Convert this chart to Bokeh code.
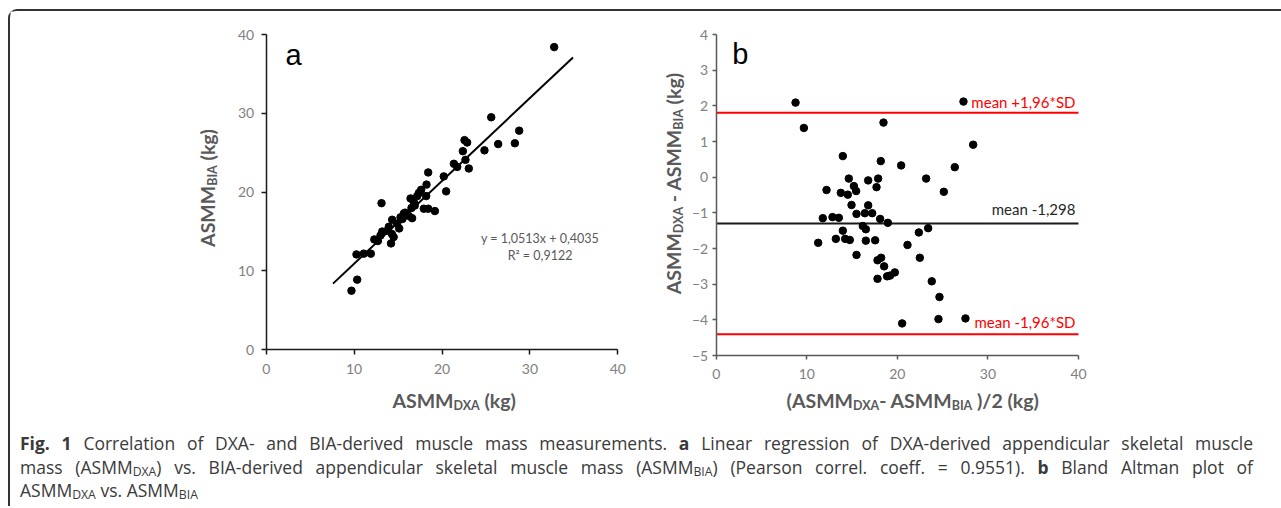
import glob
import math
import re
from bokeh.plotting import figure
from bokeh.models import Range1d, Label, Div, LinearAxis, FixedTicker
from bokeh.layouts import column, row
from bokeh.embed import file_html
from bokeh.resources import INLINE

try:
    from PIL import ImageFont
except Exception:
    ImageFont = None

# ---------------- data ----------------
# panel a: ASMM DXA vs ASMM BIA (kg)
dxa_a = [9.7, 10.35, 10.27, 11.1, 11.9, 12.3, 12.7, 13.0, 13.2, 13.76, 14.3, 14.5, 14.2,
         13.95, 15.13, 14.9, 14.33, 15.28, 15.66, 16.6, 13.12, 16.53, 16.8, 16.42, 17.18,
         17.37, 17.63, 18.2, 17.93, 18.43, 19.19, 18.24, 18.43, 20.2, 20.47, 21.35, 21.73,
         22.37, 22.56, 22.86, 22.67, 23.05, 24.83, 25.6, 26.39, 28.29, 28.78, 32.76, 15.8,
         16.2, 15.5, 16.9]
bia_a = [7.5, 8.9, 12.1, 12.2, 12.2, 14.0, 13.8, 14.5, 15.0, 15.1, 14.7, 14.3, 13.5,
         15.6, 15.4, 16.0, 16.5, 16.8, 17.3, 16.7, 18.6, 18.0, 18.7, 19.2, 19.5,
         19.9, 20.3, 19.5, 17.9, 17.9, 17.6, 20.96, 22.5, 22.0, 20.1, 23.6, 23.2,
         25.2, 26.6, 26.3, 24.1, 23.0, 25.3, 29.5, 26.1, 26.2, 27.8, 38.4, 17.4,
         17.0, 16.6, 18.3]
reg_slope = 1.0513
reg_intercept = 0.4035
reg_r2 = 0.9122
reg_x_span = [7.6, 34.9]

# panel b: Bland-Altman
ba_mean = [8.76, 9.68, 27.3, 18.47, 28.37, 13.98, 18.17, 20.42, 26.34, 14.64, 16.78, 17.88,
           17.70, 23.18, 25.13, 12.18, 13.76, 14.53, 15.2, 15.45, 14.94, 16.78, 15.49, 16.41,
           17.22, 11.77, 12.84, 13.54, 18.1, 18.95, 13.98, 16.19, 16.52, 11.26, 13.21, 14.24,
           14.75, 16.52, 17.55, 15.49, 21.12, 22.37, 23.4, 22.48, 17.81, 18.21, 18.54, 18.87,
           19.2, 19.72, 17.81, 23.8, 24.65, 24.54, 27.52, 20.53]
ba_diff = [2.09, 1.38, 2.12, 1.53, 0.91, 0.59, 0.45, 0.33, 0.28, -0.04, -0.09, -0.04,
           -0.28, -0.04, -0.41, -0.36, -0.44, -0.49, -0.25, -0.39, -0.78, -0.79, -1.03, -1.01,
           -1.01, -1.15, -1.12, -1.14, -1.17, -1.28, -1.50, -1.37, -1.46, -1.84, -1.73, -1.73,
           -1.76, -1.78, -1.77, -2.18, -1.90, -1.55, -1.43, -2.26, -2.33, -2.26, -2.50, -2.78,
           -2.76, -2.67, -2.85, -2.92, -3.36, -3.98, -3.96, -4.10]
mean_diff = -1.298
sd_diff = 1.584

ticks_a = [0, 10, 20, 30, 40]
ticks_b_x = [0, 10, 20, 30, 40]
ticks_b_y = [-5, -4, -3, -2, -1, 0, 1, 2, 3, 4]

caption_lines = [
    '<b>Fig. 1</b> Correlation of DXA- and BIA-derived muscle mass measurements. <b>a</b> Linear regression of DXA-derived appendicular skeletal muscle',
    'mass (ASMM<sub>DXA</sub>) vs. BIA-derived appendicular skeletal muscle mass (ASMM<sub>BIA</sub>) (Pearson correl. coeff. = 0.9551). <b>b</b> Bland Altman plot of',
    'ASMM<sub>DXA</sub> vs. ASMM<sub>BIA</sub>',
]

# ---------------- page geometry (pixels) ----------------
PAGE_X0, PAGE_Y0 = 10, 11           # content origin (inside border)
FIG_H = 405
A_W, B_W = 630, 641
A_PX0, A_PX40 = 265.7, 617.3        # x=0, x=40
A_PY0, A_PY40 = 349.3, 34.0         # y=0, y=40
B_PX0, B_PX40 = 715.7, 1078.0       # x=0, x=40
B_PY4, B_PYM5 = 34.0, 355.0         # y=4, y=-5


def ranges(left_px, width, top_px, height, px_a, px_b, va, vb, py_a, py_b, wa, wb):
    sx = (px_b - px_a) / (vb - va)
    sy = (py_b - py_a) / (wb - wa)
    x0 = va + (left_px - px_a) / sx
    x1 = va + (left_px + width - px_a) / sx
    y_top = wa + (top_px - py_a) / sy
    y_bot = wa + (top_px + height - py_a) / sy
    return Range1d(x0, x1), Range1d(y_bot, y_top)

# ---------------- font measuring ----------------
def find_font(patterns):
    for pat in patterns:
        for root in ("/usr/share/fonts", "/usr/local/share/fonts"):
            hits = sorted(glob.glob(f"{root}/**/{pat}", recursive=True))
            if hits:
                return hits[0]
    return None

LATO_B = find_font(["Lato-Bold.ttf", "Lato-Bold.otf"])
OS_R = find_font(["OpenSans-Regular.ttf", "OpenSans*.ttf"])


def text_w(s, size, path, approx=0.58):
    if ImageFont is not None and path:
        try:
            return ImageFont.truetype(path, size).getlength(s)
        except Exception:
            pass
    return len(s) * size * approx

TITLE_COLOR = "#595959"
TICK_COLOR = "#808080"
FS_MAIN = 19.5
FS_SUB = 12.5
SUB_SHIFT = 5


def add_title(fig, pieces, x, y, rotated=False):
    widths = [text_w(t, FS_SUB if sub else FS_MAIN, LATO_B) for t, sub in pieces]
    total = sum(widths)
    off = -total / 2
    for (t, sub), w in zip(pieces, widths):
        fs = FS_SUB if sub else FS_MAIN
        lead = len(t) - len(t.lstrip(" "))
        lead_w = text_w(" " * lead, fs, LATO_B) if lead else 0
        kw = dict(text=t.strip(" "), text_font="Lato", text_font_style="bold",
                  text_font_size=f"{fs}px", text_color=TITLE_COLOR,
                  text_align="left", text_baseline="alphabetic")
        if rotated:
            fig.add_layout(Label(x=x, y=y, y_offset=off + lead_w,
                                 x_offset=SUB_SHIFT if sub else 0,
                                 angle=math.pi / 2, **kw))
        else:
            fig.add_layout(Label(x=x, y=y, x_offset=off + lead_w,
                                 y_offset=-SUB_SHIFT if sub else 0, **kw))
        off += w


def make_axis(ticks, loc, bounds, color, tick_out, standoff):
    ax = LinearAxis(fixed_location=loc, bounds=bounds, ticker=FixedTicker(ticks=ticks))
    ax.axis_line_color = color
    ax.axis_line_width = 1.5
    ax.major_tick_line_color = color
    ax.major_tick_line_width = 1.5
    ax.major_tick_out = tick_out
    ax.major_tick_in = 0
    ax.minor_tick_line_color = None
    ax.major_label_text_font = "Lato"
    ax.major_label_text_font_size = "14px"
    ax.major_label_text_color = TICK_COLOR
    ax.major_label_standoff = standoff
    return ax


def base_fig(xr, yr, w):
    p = figure(width=w, height=FIG_H, x_range=xr, y_range=yr, min_border=0,
               x_axis_location=None, y_axis_location=None,
               output_backend="svg", toolbar_location=None, tools="")
    p.outline_line_color = None
    p.xgrid.visible = False
    p.ygrid.visible = False
    return p

# ---------------- panel a ----------------
xr_a, yr_a = ranges(PAGE_X0, A_W, PAGE_Y0, FIG_H, A_PX0, A_PX40, 0, 40, A_PY0, A_PY40, 0, 40)
pa = base_fig(xr_a, yr_a, A_W)
pa.add_layout(make_axis(ticks_a, 0, (0, 40), "#1a1a1a", 5, 9), "below")
pa.add_layout(make_axis(ticks_a, 0, (0, 40), "#1a1a1a", 5, 7), "left")

reg_y = [reg_slope * v + reg_intercept for v in reg_x_span]
pa.line(reg_x_span, reg_y, line_color="black", line_width=2)
pa.scatter(dxa_a, bia_a, size=7.5, fill_color="black", line_color="black")

fmt = lambda v: f"{v:.4f}".replace(".", ",")
pa.add_layout(Label(x=31.15, y=14.12, text=f"y = {fmt(reg_slope)}x + {fmt(reg_intercept)}",
                    text_font="Lato", text_font_size="12.5px", text_color=TITLE_COLOR,
                    text_align="center", text_baseline="middle"))
pa.add_layout(Label(x=31.15, y=11.97, text=f"R\u00b2 = {fmt(reg_r2)}",
                    text_font="Lato", text_font_size="12.5px", text_color=TITLE_COLOR,
                    text_align="center", text_baseline="middle"))
pa.add_layout(Label(x=2.2, y=37.35, text="a", text_font="Liberation Sans",
                    text_font_size="29px", text_color="black",
                    text_align="left", text_baseline="alphabetic"))

add_title(pa, [("ASMM", False), ("DXA", True), (" (kg)", False)], 21.38, -6.45)
add_title(pa, [("ASMM", False), ("BIA", True), (" (kg)", False)], -6.7, 20.53, rotated=True)

# ---------------- panel b ----------------
xr_b, yr_b = ranges(PAGE_X0 + A_W, B_W, PAGE_Y0, FIG_H, B_PX0, B_PX40, 0, 40, B_PY4, B_PYM5, 4, -5)
pb = base_fig(xr_b, yr_b, B_W)
pb.add_layout(make_axis(ticks_b_x, -5, (0, 40), "#595959", 4, 9), "below")
pb.add_layout(make_axis(ticks_b_y, 0, (-5, 4), "#595959", 4, 4), "left")

upper = mean_diff + 1.96 * sd_diff
lower = mean_diff - 1.96 * sd_diff
for loc, col in ((upper, "#ff0000"), (lower, "#ff0000"), (mean_diff, "#1a1a1a")):
    pb.line([0, 40], [loc, loc], line_color=col, line_width=2)
pb.scatter(ba_mean, ba_diff, size=7.5, fill_color="black", line_color="black")


def ba_label(txt, yv, color):
    pb.add_layout(Label(x=39.66, y=yv, text=txt, text_font="Lato", text_font_size="15px",
                        text_color=color, text_align="right", text_baseline="middle"))

ba_label("mean +1,96*SD", 2.12, "#ff0000")
ba_label(f"mean {mean_diff:.3f}".replace(".", ","), -0.905, "#262626")
ba_label("mean -1,96*SD", -4.065, "#ff0000")
pb.add_layout(Label(x=1.77, y=3.44, text="b", text_font="Liberation Sans",
                    text_font_size="29px", text_color="black",
                    text_align="left", text_baseline="alphabetic"))

add_title(pb, [("(ASMM", False), ("DXA", True), ("- ASMM", False), ("BIA", True),
               (" )/2 (kg)", False)], 21.7, -6.27)
add_title(pb, [("ASMM", False), ("DXA", True), (" - ASMM", False), ("BIA", True),
               (" (kg)", False)], -4.7, -0.18, rotated=True)

# ---------------- caption ----------------
def plain(s):
    return re.sub(r"<[^>]+>", "", s)

avail = 1222
w1 = max(text_w(plain(ln), 1.0, OS_R, approx=0.52) for ln in caption_lines[:2])
cap_fs = round(min(17.5, avail / w1), 2)

sub_style = 'style="font-size:70%;vertical-align:baseline;position:relative;top:0.2em;line-height:0;"'
html_lines = []
for i, ln in enumerate(caption_lines):
    ln = ln.replace("<sub>", f"<sub {sub_style}>")
    last = "justify" if i < len(caption_lines) - 1 else "left"
    html_lines.append(
        f'<div style="text-align:justify;text-align-last:{last};height:23.5px;'
        f'line-height:23.5px;white-space:nowrap;">{ln}</div>')
cap_html = (f'<div style="font-family:\'Open Sans\';font-size:{cap_fs}px;color:#3a3a3a;'
            f'padding:16px 0 0 10px;width:1243px;">' + "".join(html_lines) + "</div>")
cap = Div(text=cap_html, width=A_W + B_W, height=90, margin=0)

layout = column(row(pa, pb), cap, margin=(9, 0, 0, 8),
                styles={"border-top": "2px solid #333333", "border-left": "2px solid #333333",
                        "border-top-left-radius": "9px"})

open("out.html", "w").write(file_html(layout, INLINE))
